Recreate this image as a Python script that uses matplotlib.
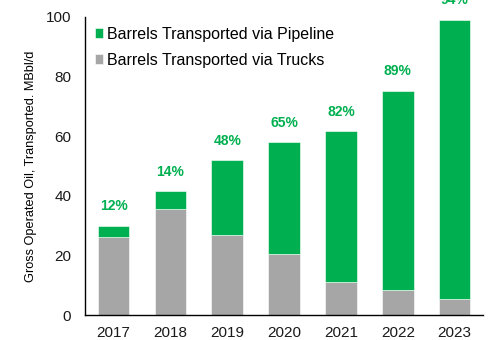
import matplotlib
matplotlib.use("Agg")
from matplotlib import pyplot as plt

plt.rcParams['font.family'] = ['Liberation Sans', 'DejaVu Sans']

years = ["2017", "2018", "2019", "2020", "2021", "2022", "2023"]
trucks = [26.3, 35.6, 26.8, 20.5, 11.1, 8.4, 5.5]
pipeline = [3.6, 5.9, 25.2, 37.5, 50.6, 66.8, 93.6]

GREEN = "#00B050"
GRAY = "#A6A6A6"

fig = plt.figure(figsize=(4.89, 3.40), dpi=100)
ax = fig.add_axes([0.174, 0.0735, 0.814, 0.8765])

x = list(range(len(years)))
ax.bar(x, trucks, width=0.555, color=GRAY, edgecolor="white", linewidth=0.4,
       label="Barrels Transported via Trucks")
ax.bar(x, pipeline, width=0.555, bottom=trucks, color=GREEN, edgecolor="white",
       linewidth=0.4, label="Barrels Transported via Pipeline")

# pipeline share above each bar
for i in x:
    total = trucks[i] + pipeline[i]
    share = round(100 * pipeline[i] / total)
    ax.annotate("{}%".format(share), (i, total), xytext=(0, 14),
                textcoords="offset points", ha="center", va="center",
                color=GREEN, fontsize=10, fontweight="bold",
                annotation_clip=False)

ax.set_xlim(-0.5, 6.5)
ax.set_ylim(0, 100)
ax.set_yticks([0, 20, 40, 60, 80, 100])
ax.set_xticks(x)
ax.set_xticklabels(years)
ax.tick_params(axis="both", length=0, labelsize=11, colors="#1a1a1a")
ax.tick_params(axis="y", pad=10)
ax.tick_params(axis="x", pad=8)
ax.set_ylabel("Gross Operated Oil, Transported. MBbl/d", fontsize=9.2, labelpad=6)

for side in ["top", "right"]:
    ax.spines[side].set_visible(False)
for side in ["left", "bottom"]:
    ax.spines[side].set_color("black")
    ax.spines[side].set_linewidth(1.0)

handles, labels = ax.get_legend_handles_labels()
ax.legend(handles[::-1], labels[::-1], loc="upper left", bbox_to_anchor=(0.0, 1.0),
          frameon=False, fontsize=11.5, handlelength=0.55, handleheight=0.55,
          handletextpad=0.25, labelspacing=0.7, borderaxespad=0.3,
          borderpad=0.3)

plt.savefig("out.png", dpi=100)
